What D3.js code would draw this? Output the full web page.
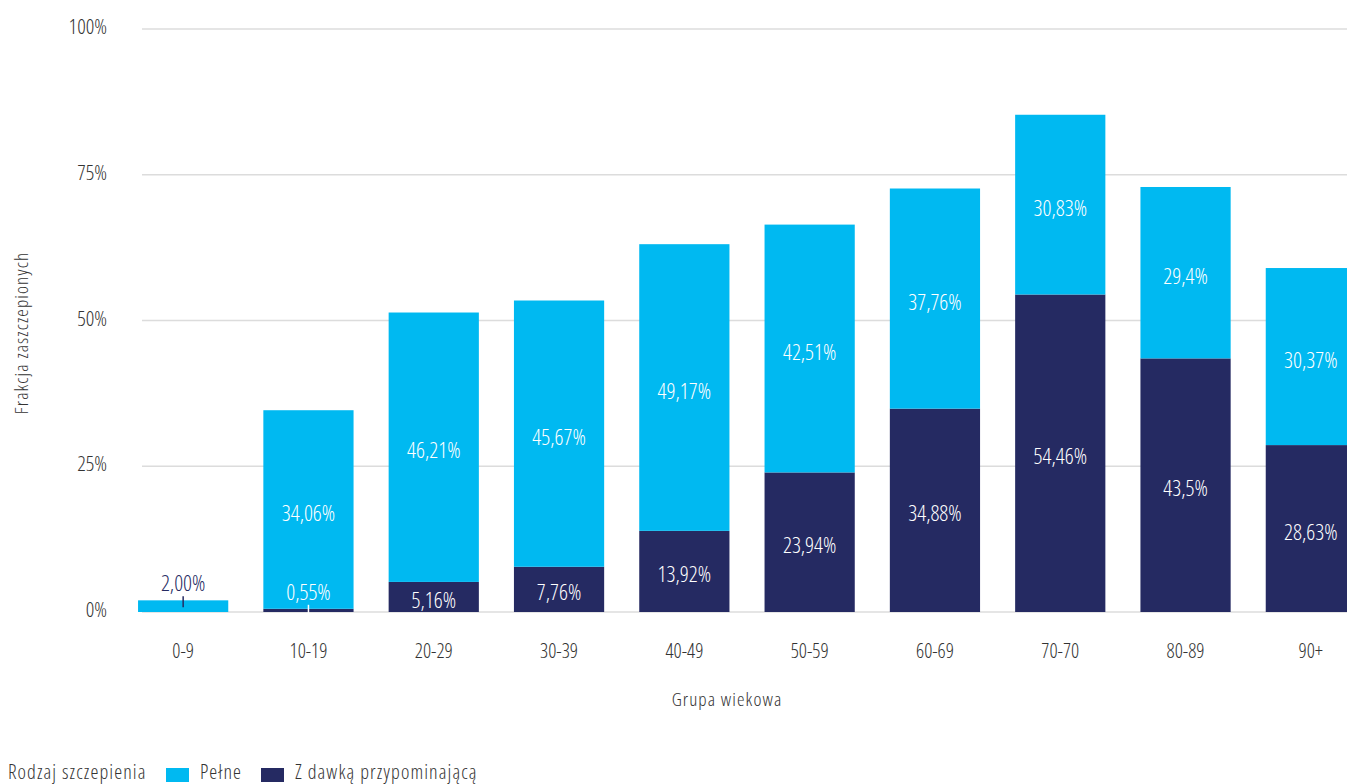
<!DOCTYPE html>
<html>
<head>
<meta charset="utf-8">
<script src="https://cdn.jsdelivr.net/npm/d3@7"></script>
<style>
  html, body { margin: 0; padding: 0; background: #fff; }
  svg { display: block; }
  text { font-family: "Open Sans", "Liberation Sans Narrow", sans-serif; font-stretch: 75%; font-weight: 300; }
  text.word { letter-spacing: 1.1px; }
</style>
</head>
<body>
<div id="chart"></div>
<script>
const width = 1347;
const height = 784;

// data
const groups = ["0-9", "10-19", "20-29", "30-39", "40-49", "50-59", "60-69", "70-70", "80-89", "90+"];
const booster = [0, 0.55, 5.16, 7.76, 13.92, 23.94, 34.88, 54.46, 43.5, 28.63];
const full = [2.00, 34.06, 46.21, 45.67, 49.17, 42.51, 37.76, 30.83, 29.4, 30.37];
const boosterLabels = [null, "0,55%", "5,16%", "7,76%", "13,92%", "23,94%", "34,88%", "54,46%", "43,5%", "28,63%"];
const fullLabels = ["2,00%", "34,06%", "46,21%", "45,67%", "49,17%", "42,51%", "37,76%", "30,83%", "29,4%", "30,37%"];
const yTicks = [0, 25, 50, 75, 100];
const seriesNames = ["Pełne", "Z dawką przypominającą"];

const colFull = "#00b9f1";
const colBooster = "#252a62";
const textCol = "#333333";

const svg = d3.select("#chart").append("svg")
    .attr("width", width)
    .attr("height", height);

const x = d3.scaleBand()
    .domain(groups)
    .range([120.5, 1373.5])
    .paddingInner(0.28)
    .paddingOuter(0.14);

const y = d3.scaleLinear()
    .domain([0, 100])
    .range([612, 29]);

// gridlines
svg.append("g")
    .selectAll("line")
    .data(yTicks)
    .join("line")
    .attr("x1", 142)
    .attr("x2", width)
    .attr("y1", d => y(d))
    .attr("y2", d => y(d))
    .attr("stroke", "#dcdcdc")
    .attr("stroke-width", 1.5);

// y tick labels
svg.append("g")
    .selectAll("text")
    .data(yTicks)
    .join("text")
    .attr("x", 107)
    .attr("y", d => y(d) + 5)
    .attr("text-anchor", "end")
    .attr("font-size", 21)
    .attr("fill", textCol)
    .text(d => d + "%");

// stacked bars
const rows = groups.map((g, i) => ({
    group: g,
    booster: booster[i],
    full: full[i],
    bLabel: boosterLabels[i],
    fLabel: fullLabels[i]
}));

const bars = svg.append("g");
bars.selectAll("rect.booster")
    .data(rows)
    .join("rect")
    .attr("class", "booster")
    .attr("x", d => x(d.group))
    .attr("width", x.bandwidth())
    .attr("y", d => y(d.booster))
    .attr("height", d => y(0) - y(d.booster))
    .attr("fill", colBooster);

bars.selectAll("rect.full")
    .data(rows)
    .join("rect")
    .attr("class", "full")
    .attr("x", d => x(d.group))
    .attr("width", x.bandwidth())
    .attr("y", d => y(d.booster + d.full))
    .attr("height", d => y(d.booster) - y(d.booster + d.full))
    .attr("fill", colFull);

// value labels
const labels = [];
rows.forEach(d => {
    const cx = x(d.group) + x.bandwidth() / 2;
    if (d.bLabel) {
        labels.push({cx: cx, lo: 0, hi: d.booster, text: d.bLabel, outsideFill: "#ffffff"});
    }
    labels.push({cx: cx, lo: d.booster, hi: d.booster + d.full, text: d.fLabel, outsideFill: colBooster});
});

const lab = svg.append("g");
labels.forEach(l => {
    const top = y(l.hi);
    const bottom = y(l.lo);
    if (bottom - top < 20) {
        // small segment: label above it with a short leader tick
        lab.append("line")
            .attr("x1", l.cx).attr("x2", l.cx)
            .attr("y1", top - 4).attr("y2", top + 7)
            .attr("stroke", l.outsideFill)
            .attr("stroke-width", 1.5);
        lab.append("text")
            .attr("x", l.cx)
            .attr("y", top - 9)
            .attr("text-anchor", "middle")
            .attr("font-size", 22)
            .attr("fill", l.outsideFill)
            .text(l.text);
    } else {
        lab.append("text")
            .attr("x", l.cx)
            .attr("y", (top + bottom) / 2 + 11)
            .attr("text-anchor", "middle")
            .attr("font-size", 22)
            .attr("fill", "#ffffff")
            .text(l.text);
    }
});

// x axis labels
svg.append("g")
    .selectAll("text")
    .data(groups)
    .join("text")
    .attr("x", d => x(d) + x.bandwidth() / 2)
    .attr("y", 658)
    .attr("text-anchor", "middle")
    .attr("font-size", 20)
    .attr("fill", textCol)
    .text(d => d);

// axis titles
svg.append("text")
    .attr("class", "word")
    .attr("x", 727)
    .attr("y", 706)
    .attr("text-anchor", "middle")
    .attr("font-size", 19)
    .attr("fill", textCol)
    .text("Grupa wiekowa");

svg.append("text")
    .attr("class", "word")
    .attr("transform", "translate(28, 333) rotate(-90)")
    .attr("text-anchor", "middle")
    .attr("font-size", 19)
    .attr("letter-spacing", 1.4)
    .attr("fill", textCol)
    .text("Frakcja zaszczepionych");

// legend
const legend = svg.append("g");
legend.append("text")
    .attr("class", "word")
    .attr("x", 8)
    .attr("y", 779)
    .attr("font-size", 20)
    .attr("fill", textCol)
    .text("Rodzaj szczepienia");

const legendX = [166, 261];
const legendCols = [colFull, colBooster];
legend.selectAll("rect")
    .data(seriesNames)
    .join("rect")
    .attr("x", (d, i) => legendX[i])
    .attr("y", 768)
    .attr("width", 23)
    .attr("height", 14)
    .attr("fill", (d, i) => legendCols[i]);

legend.selectAll("text.item")
    .data(seriesNames)
    .join("text")
    .attr("class", "item word")
    .attr("x", (d, i) => legendX[i] + 34)
    .attr("y", 779)
    .attr("font-size", 20)
    .attr("fill", textCol)
    .text(d => d);
</script>
</body>
</html>
